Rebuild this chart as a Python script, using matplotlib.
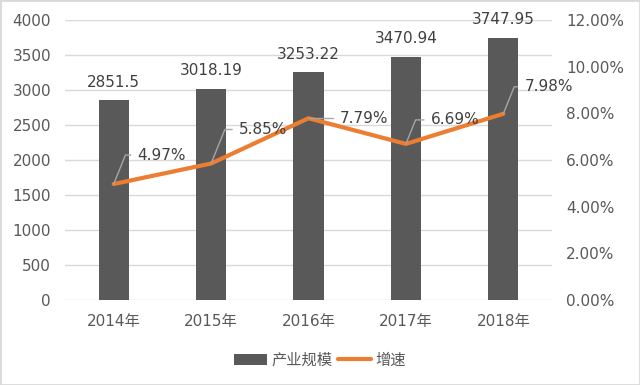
import matplotlib
matplotlib.use("Agg")
import matplotlib.pyplot as plt
from matplotlib.patches import Rectangle
from matplotlib.ticker import FuncFormatter

plt.rcParams['font.family'] = ['DejaVu Sans', 'Noto Sans CJK SC']

years = ["2014年", "2015年", "2016年", "2017年", "2018年"]
scale = [2851.5, 3018.19, 3253.22, 3470.94, 3747.95]
growth = [4.97, 5.85, 7.79, 6.69, 7.98]
# label offsets (pixels) for the growth labels
growth_offsets = [(24, 29), (28, 34), (31, 0), (25, 24), (21, 27)]

BAR = "#595959"
LINE = "#ED7D31"
GRID = "#D9D9D9"
TXT = "#404040"
TICK = "#595959"

fig = plt.figure(figsize=(6.4, 3.85), dpi=100)
ax = fig.add_axes([65 / 640, 1 - 300 / 385, 487 / 640, 280 / 385])
ax2 = ax.twinx()

x = list(range(len(years)))
ax.bar(x, scale, width=0.31, color=BAR, zorder=2, label="产业规模")
ax.set_xlim(-0.5, len(years) - 0.5)
ax.set_ylim(0, 4000)
ax.set_yticks(range(0, 4001, 500))
ax.yaxis.grid(True, color=GRID, linewidth=1)
ax.set_axisbelow(True)
ax.set_xticks(x)
ax.set_xticklabels(years)
for s in ax.spines.values():
    s.set_visible(False)
for s in ax2.spines.values():
    s.set_visible(False)
ax.tick_params(length=0, labelsize=11, labelcolor=TICK)
ax.tick_params(axis='y', pad=10)
ax.tick_params(axis='x', pad=10)

for xi, v in zip(x, scale):
    ax.annotate(f"{v:g}", (xi, v), xytext=(0, 13), textcoords="offset points",
                ha="center", va="center", fontsize=11, color=TXT)

ax2.plot(x, growth, color=LINE, linewidth=3, zorder=3, label="增速",
         solid_capstyle="round")
ax2.set_ylim(0, 12)
ax2.set_yticks(range(0, 13, 2))
ax2.yaxis.set_major_formatter(FuncFormatter(lambda v, p: f"{v:.2f}%"))
ax2.tick_params(length=0, labelsize=11, labelcolor=TICK, pad=10)

for xi, g, (dx, dy) in zip(x, growth, growth_offsets):
    ax2.annotate(f"{g:.2f}%", (xi, g), xytext=(dx * 0.72, dy * 0.72),
                 textcoords="offset points", ha="left", va="center",
                 fontsize=11, color=TXT,
                 arrowprops=dict(arrowstyle="-", color="#A6A6A6", lw=1,
                                 shrinkA=3, shrinkB=0, relpos=(0, 0.5),
                                 connectionstyle="angle,angleA=0,angleB=68,rad=0"))

h1, l1 = ax.get_legend_handles_labels()
h2, l2 = ax2.get_legend_handles_labels()
fig.legend(h1 + h2, l1 + l2, loc="center", bbox_to_anchor=(0.5, 1 - 360 / 385),
           ncol=2, frameon=False, fontsize=11, handlelength=2.2,
           columnspacing=0.3, handletextpad=0.3, labelcolor=TICK)

fig.patches.append(Rectangle((0, 0), 1, 1, transform=fig.transFigure,
                             fill=False, edgecolor=GRID, linewidth=2))

fig.savefig("out.png", dpi=100)
